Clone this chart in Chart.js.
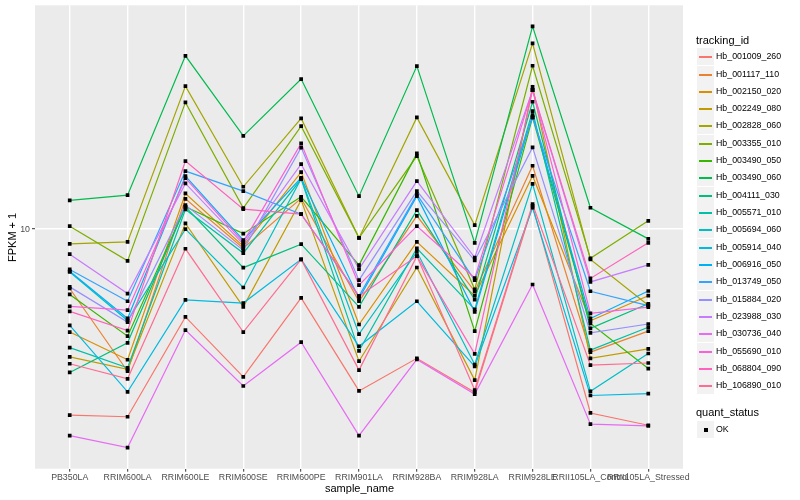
<!DOCTYPE html>
<html>
<head>
<meta charset="utf-8">
<script src="https://cdn.jsdelivr.net/npm/chart.js@4.4.0/dist/chart.umd.min.js"></script>
<style>
    body { margin: 0; background: #fff; }
    #wrap { position: relative; width: 800px; height: 500px; font-family: 'Liberation Sans', Arial, sans-serif; }
    #chart { position: absolute; left: 0; top: 0; }
    .txt { position: absolute; white-space: nowrap; color: #000; line-height: 1; font-weight: normal; }
    .axis-title { font-size: 11px; }
    .legend-title { font-size: 11px; }
    .key { position: absolute; width: 17px; height: 17px; background: #F2F2F2; }
    .key-line { position: absolute; left: 2px; right: 2px; top: 8px; height: 1.5px; }
    .key-pt { position: absolute; left: 7px; top: 7px; width: 4px; height: 4px; background: #000; }
    .legend-label { font-size: 8.8px; }
</style>
</head>
<body>
<div id="wrap">
    <canvas id="chart" width="800" height="500"></canvas>
    <div id="xTitle" class="txt axis-title">sample_name</div>
    <div id="yTitle" class="txt axis-title" style="transform-origin: 0 0; transform: rotate(-90deg);">FPKM + 1</div>
    <div id="legend"></div>
</div>
<script>
// FPKM + 1 per gene, one value per sample
const sampleNames = ['PB350LA', 'RRIM600LA', 'RRIM600LE', 'RRIM600SE', 'RRIM600PE', 'RRIM901LA',
    'RRIM928BA', 'RRIM928LA', 'RRIM928LE', 'RRII105LA_Control', 'RRII105LA_Stressed'];

const trackingIds = ['Hb_001009_260', 'Hb_001117_110', 'Hb_002150_020', 'Hb_002249_080', 'Hb_002828_060',
    'Hb_003355_010', 'Hb_003490_050', 'Hb_003490_060', 'Hb_004111_030', 'Hb_005571_010',
    'Hb_005694_060', 'Hb_005914_040', 'Hb_006916_050', 'Hb_013749_050', 'Hb_015884_020',
    'Hb_023988_030', 'Hb_030736_040', 'Hb_055690_010', 'Hb_068804_090', 'Hb_106890_010'];

const hb001009_260 = [2.40, 2.37, 5.10, 3.22, 5.90, 2.89, 3.71, 2.86, 11.96, 2.44, 2.22];
const hb001117_110 = [6.34, 3.36, 12.62, 8.64, 12.66, 5.75, 11.07, 6.20, 16.26, 3.89, 4.57];
const hb002150_020 = [4.54, 3.67, 13.15, 8.78, 15.49, 4.81, 9.07, 6.00, 15.05, 4.95, 6.00];
const hb002249_080 = [3.75, 3.41, 10.45, 5.51, 12.49, 3.63, 7.45, 3.14, 29.80, 3.71, 3.99];
const hb002828_060 = [8.93, 9.07, 29.96, 13.84, 23.39, 9.35, 23.57, 10.31, 41.59, 7.93, 5.58];
const hb003355_010 = [10.23, 7.84, 26.44, 11.75, 22.04, 9.35, 17.52, 6.30, 35.03, 7.99, 10.66];
const hb003490_050 = [6.06, 4.40, 11.87, 9.66, 12.81, 7.59, 17.88, 4.57, 23.57, 4.85, 3.43];
const hb003490_060 = [12.47, 12.98, 37.81, 20.46, 31.62, 12.88, 34.94, 9.00, 47.39, 11.78, 9.28];
const hb004111_030 = [3.33, 4.18, 11.87, 7.44, 8.91, 5.51, 11.57, 5.82, 26.57, 4.67, 5.64];
const hb005571_010 = [4.03, 3.45, 11.63, 8.32, 14.68, 3.93, 8.63, 5.40, 24.74, 3.95, 4.71];
const hb005694_060 = [7.20, 4.96, 10.00, 6.39, 14.73, 4.47, 8.40, 3.54, 14.16, 2.88, 3.85];
const hb005914_040 = [4.78, 2.87, 5.81, 5.67, 7.93, 4.07, 5.75, 3.49, 11.78, 2.79, 2.83];
const hb006916_050 = [7.24, 5.04, 15.02, 9.19, 14.83, 5.87, 12.88, 5.30, 23.99, 5.04, 6.22];
const hb013749_050 = [7.34, 5.75, 15.61, 13.39, 11.22, 5.98, 13.05, 6.76, 23.57, 6.21, 5.56];
const hb015884_020 = [6.42, 4.90, 12.02, 8.51, 18.69, 6.76, 13.39, 7.86, 18.72, 4.51, 4.83];
const hb023988_030 = [8.25, 6.10, 14.20, 8.91, 16.47, 7.36, 14.45, 8.04, 29.06, 6.67, 7.60];
const hb030736_040 = [2.05, 1.87, 4.61, 3.00, 4.20, 2.05, 3.68, 2.82, 6.54, 2.24, 2.21];
const hb055690_010 = [5.53, 5.37, 14.79, 9.05, 19.31, 6.51, 10.23, 6.87, 29.06, 5.24, 5.50];
const hb068804_090 = [5.32, 4.59, 16.85, 11.66, 11.22, 5.98, 8.13, 3.84, 29.06, 6.85, 9.00];
const hb106890_010 = [3.56, 3.17, 8.60, 4.54, 7.93, 3.39, 8.13, 2.91, 12.12, 3.52, 3.58];

const seriesValues = [hb001009_260, hb001117_110, hb002150_020, hb002249_080, hb002828_060,
    hb003355_010, hb003490_050, hb003490_060, hb004111_030, hb005571_010,
    hb005694_060, hb005914_040, hb006916_050, hb013749_050, hb015884_020,
    hb023988_030, hb030736_040, hb055690_010, hb068804_090, hb106890_010];

const yTicks = [10];
const quantStatus = ['OK'];

// ggplot hue palette, 20 levels
const palette = ['#F8766D', '#EA8331', '#D89000', '#C09B00', '#A3A500', '#7CAE00', '#39B600', '#00BB4E',
    '#00BF7D', '#00C1A3', '#00BFC4', '#00BAE0', '#00B0F6', '#35A2FF', '#9590FF', '#C77CFF',
    '#E76BF3', '#FA62DB', '#FF62BC', '#FF6C91'];

const fontFamily = "'Liberation Sans', Arial, sans-serif";

// log axis limits with 5% expansion like ggplot
const allVals = seriesValues.flat();
const logLo = Math.log10(Math.min(...allVals));
const logHi = Math.log10(Math.max(...allVals));
const logPad = (logHi - logLo) * 0.05;
const yMin = Math.pow(10, logLo - logPad);
const yMax = Math.pow(10, logHi + logPad);

const lineSets = trackingIds.map((id, i) => ({
    label: id,
    data: seriesValues[i].map((v, j) => ({ x: j, y: v })),
    borderColor: palette[i],
    borderWidth: 1.2,
    pointRadius: 0,
    fill: false,
    tension: 0,
    order: 100 - i
}));

const pointSet = {
    label: quantStatus[0],
    data: seriesValues.flatMap(vals => vals.map((v, j) => ({ x: j, y: v }))),
    showLine: false,
    pointStyle: 'rect',
    pointRadius: 2.6,
    pointBackgroundColor: '#000',
    pointBorderColor: '#000',
    pointBorderWidth: 0,
    order: 0
};

const panelBg = {
    id: 'panelBg',
    beforeDraw(chart) {
        const { ctx, chartArea: a } = chart;
        ctx.save();
        ctx.fillStyle = '#EBEBEB';
        ctx.fillRect(a.left, a.top, a.right - a.left, a.bottom - a.top);
        ctx.restore();
    }
};

new Chart(document.getElementById('chart'), {
    type: 'line',
    data: { datasets: [...lineSets, pointSet] },
    plugins: [panelBg],
    options: {
        responsive: false,
        animation: false,
        events: [],
        layout: { padding: { left: 0, right: 117, top: 5.3, bottom: 0 } },
        plugins: {
            legend: { display: false },
            tooltip: { enabled: false }
        },
        scales: {
            x: {
                type: 'linear',
                min: -0.6,
                max: sampleNames.length - 1 + 0.6,
                afterBuildTicks: scale => {
                    scale.ticks = sampleNames.map((_, i) => ({ value: i }));
                },
                afterFit: scale => {
                    scale.height = 31.3;
                    scale.paddingLeft = 0;
                    scale.paddingRight = 0;
                },
                ticks: {
                    autoSkip: false,
                    maxRotation: 0,
                    minRotation: 0,
                    padding: 1,
                    color: '#4D4D4D',
                    font: { family: fontFamily, size: 8.8 },
                    callback: value => sampleNames[value]
                },
                grid: { color: '#FFFFFF', lineWidth: 1.4, tickColor: '#333333', tickLength: 3, tickWidth: 1 },
                border: { display: false }
            },
            y: {
                type: 'logarithmic',
                min: yMin,
                max: yMax,
                afterBuildTicks: scale => {
                    scale.ticks = yTicks.map(v => ({ value: v }));
                },
                afterFit: scale => {
                    scale.width = 35;
                    scale.paddingTop = 0;
                    scale.paddingBottom = 0;
                },
                ticks: {
                    padding: 2,
                    color: '#4D4D4D',
                    font: { family: fontFamily, size: 8.8 },
                    callback: value => String(value)
                },
                grid: { color: '#FFFFFF', lineWidth: 1.4, tickColor: '#333333', tickLength: 3, tickWidth: 1 },
                border: { display: false }
            }
        }
    }
});

// Axis titles, placed on whole pixels
const xTitle = document.getElementById('xTitle');
xTitle.style.left = Math.round(359 - xTitle.offsetWidth / 2) + 'px';
xTitle.style.top = Math.round(488 - xTitle.offsetHeight / 2) + 'px';
const yTitle = document.getElementById('yTitle');
yTitle.style.left = Math.round(12.5 - yTitle.offsetHeight / 2) + 'px';
yTitle.style.top = Math.round(237 + yTitle.offsetWidth / 2) + 'px';

// Legend (ggplot style, right side)
const legend = document.getElementById('legend');
const keyStep = 17.32;
const firstKeyCenter = 56.7;
let html = `<div class="txt legend-title" style="left:696px; top:35px;">tracking_id</div>`;
trackingIds.forEach((id, i) => {
    const top = Math.round(firstKeyCenter + i * keyStep - 8.5);
    html += `<div class="key" style="left:697px; top:${top}px;"><div class="key-line" style="background:${palette[i]}"></div></div>`;
    html += `<div class="txt legend-label" style="left:716px; top:${top + 4}px;">${id}</div>`;
});
html += `<div class="txt legend-title" style="left:696px; top:407px;">quant_status</div>`;
quantStatus.forEach((s, i) => {
    const top = Math.round(429.3 + i * keyStep - 8.5);
    html += `<div class="key" style="left:697px; top:${top}px;"><div class="key-pt"></div></div>`;
    html += `<div class="txt legend-label" style="left:716px; top:${top + 4}px;">${s}</div>`;
});
legend.innerHTML = html;
</script>
</body>
</html>
